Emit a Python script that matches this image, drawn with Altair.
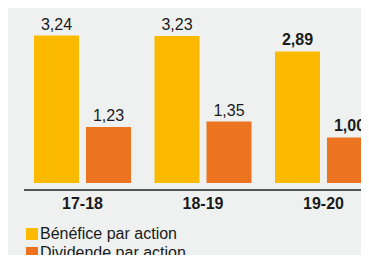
import altair as alt
import pandas as pd

periods = ["17-18", "18-19", "19-20"]
series = ["Bénéfice par action", "Dividende par action"]
benefice = [3.24, 3.23, 2.89]
dividende = [1.23, 1.35, 1.00]
colors = ["#FBBA00", "#EC7421"]
bold_period = "19-20"

rows = []
for p, b, d in zip(periods, benefice, dividende):
    rows.append({"period": p, "series": series[0], "value": b})
    rows.append({"period": p, "series": series[1], "value": d})
df = pd.DataFrame(rows)

FONT = "Liberation Sans"

x = alt.X("period:N", sort=periods, title=None,
          scale=alt.Scale(range=[26, 364], paddingInner=0.195, paddingOuter=0),
          axis=alt.Axis(domain=False, ticks=False, labelAngle=0, labelFont=FONT,
                        labelFontSize=16, labelFontWeight="bold", labelColor="#1a1a1a",
                        labelPadding=12))
xo = alt.XOffset("series:N", sort=series,
                 scale=alt.Scale(paddingInner=0.1346, paddingOuter=0))
y = alt.Y("value:Q", scale=alt.Scale(domain=[0, 3.846], nice=False), axis=None)

base = alt.Chart(df).encode(x=x, xOffset=xo, y=y)

bars = base.mark_bar().encode(
    color=alt.Color("series:N", sort=series,
                    scale=alt.Scale(domain=series, range=colors),
                    legend=alt.Legend(orient="none", legendX=16, legendY=218, title=None,
                                      symbolType="square", symbolSize=144,
                                      symbolStrokeWidth=0, labelFont=FONT,
                                      labelFontSize=16, labelColor="#1a1a1a",
                                      padding=0, rowPadding=3, labelOffset=0))
)

label_expr = "replace(format(datum.value, '.2f'), '.', ',')"
labels_normal = base.transform_filter(alt.datum.period != bold_period).transform_calculate(
    lab=label_expr).mark_text(dy=-6, baseline="alphabetic", font=FONT, fontSize=16,
                              color="#1a1a1a").encode(text="lab:N")
labels_bold = base.transform_filter(alt.datum.period == bold_period).transform_calculate(
    lab=label_expr).mark_text(dy=-6, baseline="alphabetic", font=FONT, fontSize=16,
                              fontWeight="bold", color="#1a1a1a").encode(text="lab:N")

axis_line = alt.Chart(alt.Data(values=[{}])).mark_rule(color="#555555", strokeWidth=2).encode(
    x=alt.value(16), x2=alt.value(361), y=alt.value(182))

chart = alt.layer(bars, labels_normal, labels_bold, axis_line).properties(
    width=353, height=175,
    autosize=alt.AutoSizeParams(type="none"),
    padding={"left": 0, "top": 0, "right": 0, "bottom": 72},
    background="#EEF1F0",
).configure_view(stroke=None)

chart.save("out.html", embed_options={"renderer": "svg", "actions": False})
